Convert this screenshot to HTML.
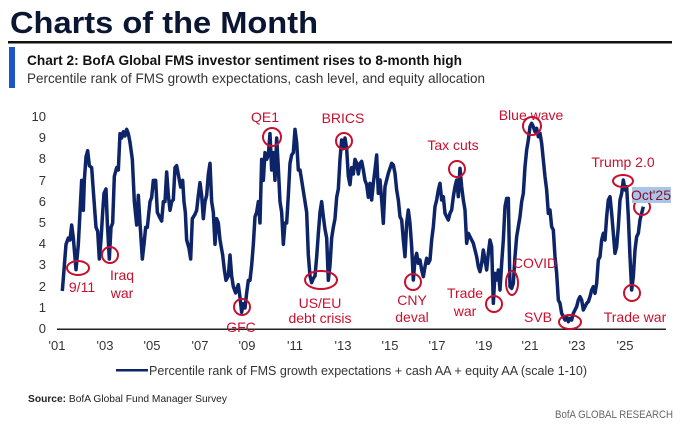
<!DOCTYPE html>
<html><head><meta charset="utf-8"><style>
html,body{margin:0;padding:0;background:#fff;}
svg{display:block;font-family:"Liberation Sans",sans-serif;}
</style></head><body>
<svg width="680" height="429" viewBox="0 0 680 429" xmlns="http://www.w3.org/2000/svg">
<text x="10" y="33" font-size="31" font-weight="bold" fill="#0b1633" textLength="308" lengthAdjust="spacingAndGlyphs">Charts of the Month</text>
<rect x="8" y="41" width="664" height="2.5" fill="#111"/>
<rect x="9" y="47" width="6" height="41" fill="#1a56c8"/>
<text x="27" y="65" font-size="14" font-weight="bold" fill="#111" textLength="435" lengthAdjust="spacingAndGlyphs">Chart 2: BofA Global FMS investor sentiment rises to 8-month high</text>
<text x="27" y="83" font-size="14" fill="#333" textLength="458" lengthAdjust="spacingAndGlyphs">Percentile rank of FMS growth expectations, cash level, and equity allocation</text>

<g font-size="13" fill="#333" text-anchor="end">
<text x="46" y="121">10</text><text x="46" y="142">9</text><text x="46" y="163">8</text><text x="46" y="185">7</text><text x="46" y="206">6</text><text x="46" y="227">5</text><text x="46" y="248">4</text><text x="46" y="269">3</text><text x="46" y="291">2</text><text x="46" y="312">1</text><text x="46" y="333">0</text>
</g>
<rect x="57" y="328.5" width="609" height="1.5" fill="#222"/>
<g font-size="13" fill="#333" text-anchor="middle">
<text x="57" y="350">'01</text><text x="105" y="350">'03</text><text x="152" y="350">'05</text><text x="200" y="350">'07</text><text x="247" y="350">'09</text><text x="295" y="350">'11</text><text x="343" y="350">'13</text><text x="390" y="350">'15</text><text x="437" y="350">'17</text><text x="484" y="350">'19</text><text x="530" y="350">'21</text><text x="577" y="350">'23</text><text x="625" y="350">'25</text>
</g>

<g transform="translate(30,100) scale(0.33333)">
<polyline fill="none" stroke="#0d2468" stroke-width="3.5" vector-effect="non-scaling-stroke" stroke-linejoin="round" points="97,573 108,433 115,414 120,420 125,375 130,414 138,509 145,433 150,337 155,241 160,331 163,241 168,171 173,152 178,197 185,203 190,273 198,382 203,394 208,477 213,420 218,337 222,280 228,267 232,369 238,477 243,382 248,369 253,229 260,203 265,210 270,101 275,114 280,95 285,108 290,88 295,101 300,127 307,178 313,305 320,375 325,286 330,369 337,477 342,433 347,382 352,382 360,305 365,292 370,241 377,241 382,337 388,350 395,363 400,305 405,305 410,216 415,286 420,331 425,305 430,299 435,203 440,197 446,229 452,261 458,241 462,305 466,337 470,420 477,445 482,477 487,356 495,343 500,331 505,286 510,248 515,286 520,356 525,305 530,286 535,222 540,190 545,305 550,337 555,433 560,356 565,369 570,420 578,465 583,509 588,541 595,528 600,465 605,528 610,560 617,579 620,567 625,554 630,592 635,637 640,611 645,624 650,579 655,541 660,541 665,496 670,433 675,350 680,337 685,305 690,369 695,178 700,241 705,158 710,178 715,165 720,101 725,210 730,158 735,241 740,114 745,203 750,305 755,337 760,433 765,369 770,369 775,286 780,190 785,165 790,158 795,88 800,127 805,210 810,210 815,241 820,273 825,305 830,337 835,465 840,528 845,548 850,535 855,528 860,471 865,401 870,337 875,305 880,350 885,388 890,414 895,541 900,496 905,414 910,382 915,356 920,292 925,267 930,178 935,120 940,146 945,114 950,146 955,229 960,254 965,203 970,222 975,178 980,190 985,222 990,190 995,184 1000,210 1005,241 1010,254 1015,292 1020,250 1025,300 1030,250 1035,210 1040,165 1045,280 1050,240 1055,300 1060,370 1065,260 1070,240 1075,220 1085,190 1090,195 1095,220 1100,270 1105,300 1110,350 1115,360 1120,420 1125,470 1130,370 1135,330 1140,370 1145,440 1150,540 1155,480 1160,460 1165,490 1170,480 1175,510 1180,530 1185,500 1190,475 1195,490 1200,480 1205,420 1210,380 1215,320 1220,300 1225,270 1230,250 1235,300 1240,290 1245,340 1250,350 1255,360 1260,340 1265,330 1270,290 1275,260 1280,240 1285,290 1290,205 1295,260 1300,300 1305,330 1310,430 1315,400 1320,410 1325,420 1330,430 1335,450 1340,470 1345,500 1350,515 1355,490 1360,450 1365,480 1370,510 1375,460 1380,420 1385,440 1390,610 1395,520 1400,540 1405,510 1410,570 1415,490 1420,420 1425,320 1430,295 1435,295 1440,560 1445,565 1450,550 1455,470 1460,410 1465,380 1470,350 1475,305 1480,280 1485,200 1490,150 1495,120 1500,80 1505,70 1510,80 1515,95 1520,85 1525,110 1530,100 1535,130 1540,180 1545,230 1550,270 1555,340 1560,330 1565,380 1570,390 1575,470 1580,520 1585,600 1590,610 1595,640 1600,650 1605,660 1610,650 1615,665 1620,655 1625,660 1630,640 1635,630 1640,620 1645,600 1650,590 1655,600 1660,630 1665,620 1670,610 1675,605 1680,590 1685,570 1690,560 1695,580 1700,550 1705,480 1710,470 1715,420 1720,400 1725,420 1730,350 1735,300 1740,290 1745,340 1750,400 1755,460 1760,440 1765,380 1770,300 1775,280 1780,240 1785,270 1790,260 1795,350 1800,470 1805,570 1810,530 1815,450 1820,410 1825,400 1830,360 1835,340 1840,320"/>
</g>

<g fill="none" stroke="#c8102e" stroke-width="2">
<ellipse cx="78" cy="268" rx="11" ry="7"/>
<circle cx="110" cy="255" r="8"/>
<circle cx="242" cy="307" r="8"/>
<circle cx="272" cy="137" r="9"/>
<ellipse cx="321" cy="280" rx="16" ry="9"/>
<circle cx="344" cy="141" r="8"/>
<circle cx="457" cy="169" r="8"/>
<circle cx="413" cy="282" r="8"/>
<circle cx="494" cy="304" r="8"/>
<ellipse cx="512" cy="283" rx="6" ry="12"/>
<circle cx="532" cy="126" r="9"/>
<ellipse cx="570" cy="322" rx="11" ry="7"/>
<ellipse cx="623" cy="181" rx="10" ry="6"/>
<circle cx="642" cy="207" r="8"/>
<circle cx="632" cy="293" r="8"/>
</g>
<rect x="632" y="187" width="39" height="16" fill="#a9c6e8"/>
<g font-size="14" fill="#c8102e" text-anchor="middle">
<text x="82" y="292">9/11</text>
<text x="122" y="280">Iraq</text><text x="122" y="298">war</text>
<text x="241" y="332">GFC</text>
<text x="265" y="122">QE1</text>
<text x="320" y="308">US/EU</text><text x="320" y="323">debt crisis</text>
<text x="343" y="123">BRICS</text>
<text x="453" y="150">Tax cuts</text>
<text x="412" y="305">CNY</text><text x="412" y="322">deval</text>
<text x="465" y="298">Trade</text><text x="465" y="316">war</text>
<text x="535" y="268">COVID</text>
<text x="531" y="120">Blue wave</text>
<text x="538" y="322">SVB</text>
<text x="623" y="167">Trump 2.0</text>
<text x="651" y="200" fill="#8a1030">Oct'25</text>
<text x="635" y="322">Trade war</text>
</g>

<rect x="116" y="369" width="32" height="2.5" fill="#0d2468"/>
<text x="149" y="375" font-size="13" fill="#333" textLength="438" lengthAdjust="spacingAndGlyphs">Percentile rank of FMS growth expectations + cash AA + equity AA (scale 1-10)</text>
<text x="28" y="402" font-size="10.5" fill="#222" textLength="199" lengthAdjust="spacingAndGlyphs"><tspan font-weight="bold">Source:</tspan> BofA Global Fund Manager Survey</text>
<text x="555" y="418" font-size="11" fill="#666" textLength="118" lengthAdjust="spacingAndGlyphs">BofA GLOBAL RESEARCH</text>
</svg>
</body></html>
